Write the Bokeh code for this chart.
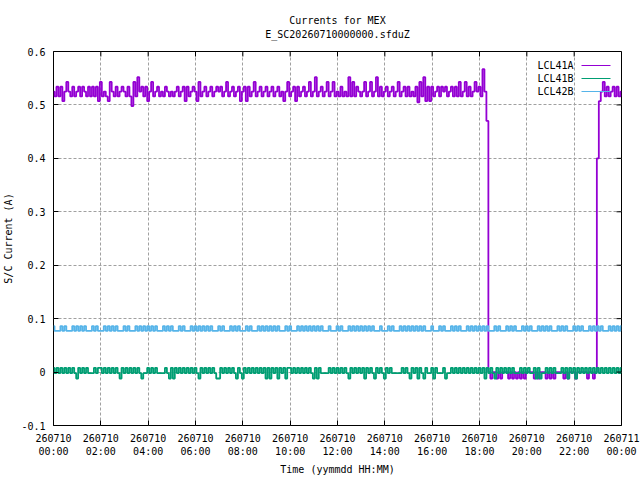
from bokeh.plotting import figure
from bokeh.models import Range1d, FixedTicker, Title, Label, PolyAnnotation
from bokeh.embed import file_html
from bokeh.resources import INLINE

TITLE = "Currents for MEX"
SUBTITLE = "E_SC20260710000000.sfduZ"
X_LABEL = "Time (yymmdd HH:MM)"
Y_LABEL = "S/C Current (A)"
SERIES_NAMES = ["LCL41A", "LCL41B", "LCL42B"]
SERIES_COLORS = ["#9400d3", "#009e73", "#56b4e9"]
SAMPLE_MINUTES = 5

x_tick_hours = [0, 2, 4, 6, 8, 10, 12, 14, 16, 18, 20, 22, 24]
x_tick_labels = ["260710\n00:00", "260710\n02:00", "260710\n04:00", "260710\n06:00",
                 "260710\n08:00", "260710\n10:00", "260710\n12:00", "260710\n14:00",
                 "260710\n16:00", "260710\n18:00", "260710\n20:00", "260710\n22:00",
                 "260711\n00:00"]
y_ticks = [-0.1, 0, 0.1, 0.2, 0.3, 0.4, 0.5, 0.6]
y_tick_labels = ["-0.1", "0", "0.1", "0.2", "0.3", "0.4", "0.5", "0.6"]

# LCL41A current (A), one row per hour, 5-minute samples
lcl41a = [
    0.525, 0.516, 0.534, 0.516, 0.534, 0.507, 0.525, 0.543, 0.525, 0.516, 0.534, 0.516,
    0.525, 0.534, 0.516, 0.534, 0.525, 0.516, 0.534, 0.516, 0.534, 0.516, 0.534, 0.507,
    0.543, 0.516, 0.525, 0.516, 0.507, 0.543, 0.525, 0.516, 0.534, 0.516, 0.525, 0.534,
    0.525, 0.516, 0.534, 0.516, 0.498, 0.543, 0.516, 0.552, 0.525, 0.534, 0.516, 0.534,
    0.507, 0.525, 0.543, 0.516, 0.525, 0.534, 0.516, 0.525, 0.516, 0.534, 0.525, 0.516,
    0.525, 0.516, 0.525, 0.534, 0.516, 0.525, 0.534, 0.507, 0.534, 0.516, 0.525, 0.534,
    0.525, 0.507, 0.543, 0.516, 0.525, 0.534, 0.516, 0.525, 0.534, 0.516, 0.525, 0.534,
    0.525, 0.534, 0.516, 0.525, 0.543, 0.516, 0.525, 0.534, 0.516, 0.525, 0.534, 0.507,
    0.525, 0.534, 0.507, 0.534, 0.516, 0.525, 0.543, 0.516, 0.525, 0.534, 0.516, 0.525,
    0.534, 0.516, 0.525, 0.534, 0.516, 0.525, 0.534, 0.516, 0.525, 0.507, 0.525, 0.543,
    0.516, 0.525, 0.534, 0.507, 0.534, 0.516, 0.525, 0.534, 0.516, 0.525, 0.543, 0.516,
    0.525, 0.552, 0.516, 0.525, 0.534, 0.516, 0.525, 0.543, 0.516, 0.525, 0.543, 0.516,
    0.525, 0.516, 0.534, 0.516, 0.525, 0.516, 0.552, 0.516, 0.543, 0.516, 0.534, 0.525,
    0.516, 0.525, 0.543, 0.516, 0.525, 0.543, 0.516, 0.525, 0.552, 0.516, 0.534, 0.516,
    0.525, 0.534, 0.516, 0.525, 0.534, 0.516, 0.525, 0.543, 0.516, 0.525, 0.534, 0.516,
    0.534, 0.516, 0.525, 0.516, 0.534, 0.505, 0.543, 0.516, 0.552, 0.507, 0.534, 0.507,
    0.534, 0.516, 0.525, 0.534, 0.516, 0.534, 0.525, 0.534, 0.516, 0.525, 0.534, 0.516,
    0.534, 0.516, 0.543, 0.516, 0.525, 0.543, 0.516, 0.534, 0.516, 0.525, 0.543, 0.525,
    0.534, 0.516, 0.567, 0.525, 0.470, 0.000, -0.012, 0.000, 0.000, -0.012, 0.000, -0.012,
    0.000, 0.000, 0.000, -0.012, 0.000, -0.012, 0.000, -0.012, 0.000, -0.012, 0.000, -0.012,
    0.000, 0.000, 0.000, 0.000, -0.012, 0.000, -0.012, 0.000, 0.000, 0.000, -0.012, 0.000,
    -0.012, 0.000, -0.012, 0.000, 0.000, 0.000, 0.000, -0.012, 0.000, -0.012, 0.000, 0.000,
    0.000, -0.012, 0.000, 0.000, 0.000, 0.000, 0.000, -0.012, 0.000, 0.000, -0.012, 0.000,
    0.400, 0.507, 0.525, 0.543, 0.516, 0.534, 0.516, 0.525, 0.534, 0.516, 0.534, 0.516,
    0.525,
]

# LCL41B current (A)
lcl41b = [
    0.008, -0.002, 0.008, -0.002, 0.008, -0.002, 0.008, -0.002, 0.008, -0.002, 0.008, -0.002,
    -0.012, 0.008, -0.002, 0.008, -0.002, 0.008, -0.002, -0.002, -0.002, 0.008, -0.002, 0.008,
    0.008, -0.002, 0.008, -0.002, 0.008, -0.002, 0.008, -0.002, 0.008, -0.002, -0.012, 0.008,
    -0.002, 0.008, -0.002, 0.008, -0.002, 0.008, -0.002, 0.008, -0.002, -0.012, -0.002, -0.002,
    0.008, -0.002, 0.008, -0.002, 0.008, -0.002, -0.002, -0.002, -0.002, 0.008, -0.002, -0.012,
    0.008, -0.012, 0.008, -0.002, 0.008, -0.002, 0.008, -0.002, 0.008, -0.002, 0.008, -0.002,
    0.008, -0.002, -0.012, 0.008, -0.002, 0.008, -0.002, 0.008, -0.002, 0.008, -0.002, -0.012,
    -0.012, 0.008, -0.002, 0.008, -0.002, 0.008, -0.002, 0.008, -0.002, -0.012, 0.008, -0.002,
    -0.012, 0.008, -0.002, 0.008, -0.002, 0.008, -0.002, 0.008, -0.002, 0.008, -0.002, 0.008,
    -0.012, 0.008, -0.012, 0.008, -0.002, 0.008, -0.012, 0.008, -0.002, 0.008, -0.012, 0.008,
    0.008, -0.002, 0.008, -0.002, 0.008, -0.002, 0.008, -0.002, 0.008, -0.002, 0.008, -0.002,
    -0.012, 0.008, -0.012, 0.008, -0.002, -0.002, -0.002, -0.002, 0.008, -0.002, 0.008, -0.002,
    0.008, -0.002, 0.008, -0.002, 0.008, -0.002, -0.012, 0.008, -0.002, 0.008, -0.002, 0.008,
    -0.002, 0.008, -0.012, 0.008, -0.002, 0.008, -0.002, -0.012, 0.008, -0.002, 0.008, -0.002,
    -0.012, 0.008, -0.002, 0.008, -0.002, -0.002, -0.002, -0.002, -0.002, 0.008, -0.002, 0.008,
    -0.002, -0.012, 0.008, -0.002, 0.008, -0.012, 0.008, -0.002, -0.012, 0.008, -0.002, -0.002,
    0.008, -0.012, 0.008, -0.002, -0.002, -0.002, 0.008, -0.012, -0.002, -0.002, 0.008, -0.002,
    0.008, -0.002, 0.008, -0.002, 0.008, -0.002, 0.008, -0.002, 0.008, -0.002, 0.008, -0.002,
    0.008, -0.002, 0.008, -0.012, 0.008, -0.002, 0.008, -0.002, -0.012, 0.008, -0.002, 0.008,
    -0.002, 0.008, -0.002, 0.008, -0.002, 0.008, -0.002, -0.002, -0.002, 0.008, -0.002, 0.008,
    -0.002, 0.008, -0.002, -0.002, 0.008, -0.012, 0.008, -0.012, -0.002, -0.002, 0.008, -0.002,
    0.008, -0.002, 0.008, -0.002, -0.002, -0.002, 0.008, -0.002, 0.008, -0.012, 0.008, -0.002,
    0.008, -0.012, 0.008, -0.002, 0.008, -0.002, 0.008, -0.002, 0.008, -0.002, 0.008, -0.002,
    0.008, -0.002, 0.008, -0.002, 0.008, -0.002, 0.008, -0.002, 0.008, -0.002, 0.008, -0.002,
    0.008,
]

# LCL42B current (A)
lcl42b = [
    0.086, 0.077, 0.077, 0.077, 0.086, 0.077, 0.086, 0.077, 0.077, 0.077, 0.086, 0.077,
    0.086, 0.077, 0.086, 0.077, 0.086, 0.077, 0.077, 0.077, 0.086, 0.077, 0.086, 0.077,
    0.077, 0.077, 0.086, 0.077, 0.086, 0.077, 0.086, 0.077, 0.086, 0.077, 0.077, 0.077,
    0.086, 0.077, 0.086, 0.077, 0.077, 0.077, 0.086, 0.077, 0.086, 0.077, 0.086, 0.077,
    0.086, 0.077, 0.086, 0.077, 0.086, 0.077, 0.077, 0.077, 0.086, 0.077, 0.086, 0.077,
    0.086, 0.077, 0.077, 0.077, 0.086, 0.077, 0.086, 0.077, 0.077, 0.077, 0.086, 0.077,
    0.086, 0.077, 0.086, 0.077, 0.086, 0.077, 0.086, 0.077, 0.086, 0.077, 0.077, 0.077,
    0.086, 0.077, 0.086, 0.077, 0.077, 0.077, 0.086, 0.077, 0.086, 0.077, 0.086, 0.077,
    0.077, 0.077, 0.086, 0.077, 0.086, 0.077, 0.077, 0.077, 0.086, 0.077, 0.086, 0.077,
    0.086, 0.077, 0.086, 0.077, 0.086, 0.077, 0.086, 0.077, 0.077, 0.077, 0.086, 0.077,
    0.086, 0.077, 0.077, 0.077, 0.086, 0.077, 0.086, 0.077, 0.086, 0.077, 0.086, 0.077,
    0.086, 0.077, 0.086, 0.077, 0.086, 0.077, 0.077, 0.077, 0.086, 0.077, 0.077, 0.077,
    0.086, 0.077, 0.086, 0.077, 0.077, 0.077, 0.086, 0.077, 0.086, 0.077, 0.086, 0.077,
    0.086, 0.077, 0.086, 0.077, 0.086, 0.077, 0.086, 0.077, 0.077, 0.077, 0.086, 0.077,
    0.077, 0.077, 0.086, 0.077, 0.086, 0.077, 0.077, 0.077, 0.086, 0.077, 0.086, 0.077,
    0.086, 0.077, 0.086, 0.077, 0.086, 0.077, 0.086, 0.077, 0.086, 0.077, 0.077, 0.077,
    0.086, 0.077, 0.077, 0.077, 0.086, 0.077, 0.086, 0.077, 0.077, 0.077, 0.086, 0.077,
    0.086, 0.077, 0.086, 0.077, 0.077, 0.077, 0.086, 0.077, 0.086, 0.077, 0.086, 0.077,
    0.086, 0.077, 0.086, 0.077, 0.086, 0.077, 0.077, 0.077, 0.086, 0.077, 0.086, 0.077,
    0.077, 0.077, 0.086, 0.077, 0.086, 0.077, 0.086, 0.077, 0.077, 0.077, 0.086, 0.077,
    0.086, 0.077, 0.086, 0.077, 0.077, 0.077, 0.086, 0.077, 0.086, 0.077, 0.086, 0.077,
    0.086, 0.077, 0.077, 0.077, 0.086, 0.077, 0.086, 0.077, 0.086, 0.077, 0.077, 0.077,
    0.086, 0.077, 0.086, 0.077, 0.086, 0.077, 0.077, 0.077, 0.086, 0.077, 0.086, 0.077,
    0.086, 0.077, 0.086, 0.077, 0.077, 0.077, 0.086, 0.077, 0.086, 0.077, 0.086, 0.077,
    0.086,
]

FONT = "DejaVu Sans Mono"
FS = "10px"
GRID = "#a0a0a0"
FRAME_W, FRAME_H = 568, 374
X0, X1, Y0, Y1 = 0, 24, -0.1, 0.6
TICK_PX = 5

hours = [i * SAMPLE_MINUTES / 60 for i in range(len(lcl41a))]

p = figure(frame_width=FRAME_W, frame_height=FRAME_H,
           x_range=Range1d(X0, X1), y_range=Range1d(Y0, Y1),
           output_backend="svg", toolbar_location=None, title=None,
           min_border_left=53, min_border_right=19, min_border_top=51, min_border_bottom=55)
p.background_fill_color = "white"
p.border_fill_color = "white"
p.outline_line_color = "black"
p.outline_line_width = 1
p.outline_line_alpha = 1

xt = FixedTicker(ticks=x_tick_hours)
yt = FixedTicker(ticks=y_ticks)

p.xgrid.ticker = xt
p.ygrid.ticker = yt
for g in (p.xgrid[0], p.ygrid[0]):
    g.grid_line_color = GRID
    g.grid_line_dash = "3 2"
    g.grid_line_width = 1

for ys, color in zip([lcl41a, lcl41b, lcl42b], SERIES_COLORS):
    p.step(hours, ys, mode="center", line_color=color, line_width=1.8)

def style_axis(ax):
    ax.major_tick_in = TICK_PX
    ax.major_tick_out = 0
    ax.minor_tick_line_color = None
    ax.axis_line_color = None
    ax.major_tick_line_color = "black"
    ax.major_label_text_font = FONT
    ax.major_label_text_font_size = FS
    ax.major_label_text_color = "black"
    ax.axis_label_text_font = FONT
    ax.axis_label_text_font_size = FS
    ax.axis_label_text_font_style = "normal"
    ax.axis_label_text_color = "black"

xa = p.xaxis[0]
xa.ticker = xt
xa.major_label_overrides = dict(zip(x_tick_hours, x_tick_labels))
xa.axis_label = X_LABEL
style_axis(xa)
xa.major_label_standoff = 7
xa.axis_label_standoff = 4

ya = p.yaxis[0]
ya.ticker = yt
ya.major_label_overrides = dict(zip(y_ticks, y_tick_labels))
ya.axis_label = Y_LABEL
style_axis(ya)
ya.major_label_standoff = 8
ya.axis_label_standoff = 4

# mirrored tick marks on the top and right borders (gnuplot style)
dy = (Y1 - Y0) * TICK_PX / FRAME_H
dx = (X1 - X0) * TICK_PX / FRAME_W
p.segment(x0=x_tick_hours, y0=[Y1] * len(x_tick_hours), x1=x_tick_hours,
          y1=[Y1 - dy] * len(x_tick_hours), line_color="black", line_width=1)
p.segment(x0=[X1] * len(y_ticks), y0=y_ticks, x1=[X1 - dx] * len(y_ticks), y1=y_ticks,
          line_color="black", line_width=1)

p.add_layout(Title(text=TITLE + "\n" + SUBTITLE, align="center", text_align="center",
                   text_font=FONT, text_font_size=FS, text_font_style="normal",
                   text_color="black", text_line_height=1.3, standoff=22), "above")

# key, gnuplot style: name then line sample, in the frame's top right
for i, (name, color) in enumerate(zip(SERIES_NAMES, SERIES_COLORS)):
    yy = 360 - 13 * i
    p.add_layout(Label(x=520, y=yy, x_units="screen", y_units="screen", text=name,
                       text_align="right", text_baseline="middle", text_font=FONT,
                       text_font_size=FS, text_color="black"))
    p.add_layout(PolyAnnotation(xs=[528, 557], ys=[yy, yy], xs_units="screen", ys_units="screen",
                                fill_alpha=0, line_alpha=1, line_color=color, line_width=1))

open("out.html", "w").write(file_html(p, INLINE))
